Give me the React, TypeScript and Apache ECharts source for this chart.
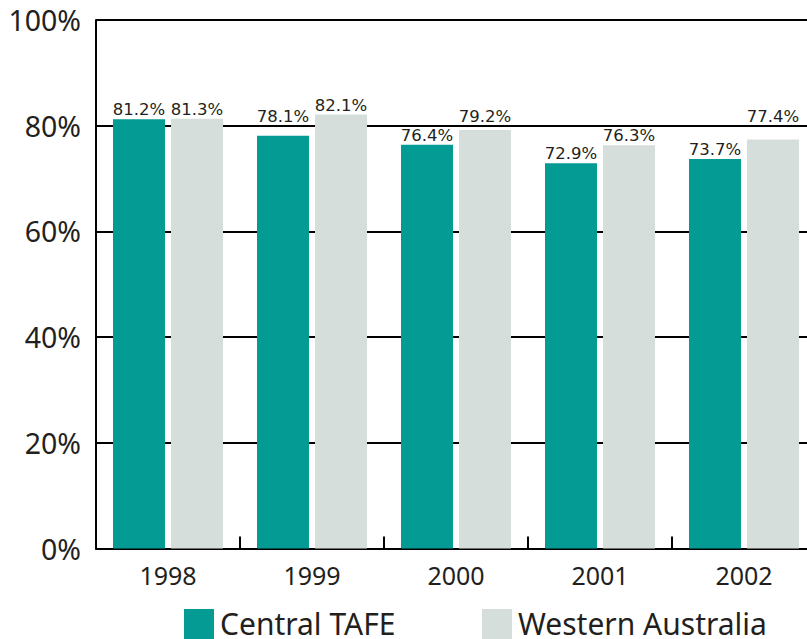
import React, { useEffect, useRef } from "react";
import * as echarts from "echarts";

// Completion rates by year
const years = ["1998", "1999", "2000", "2001", "2002"];
const centralTafe = [81.2, 78.1, 76.4, 72.9, 73.7];
const westernAustralia = [81.3, 82.1, 79.2, 76.3, 77.4];
const seriesNames = ["Central TAFE", "Western Australia"];
const yTicks = [0, 20, 40, 60, 80, 100];

const TEAL = "#039b93";
const GREY = "#d5dedb";
const INK = "#231f20";
const AXIS_FONT = "'Noto Sans', 'Open Sans', sans-serif";

// The chart canvas is a little wider than the visible frame, so the plot
// runs past the right edge.
const VIEW_W = 807;
const VIEW_H = 639;
const CHART_W = 816;

const GRID_LEFT = 96;
const GRID_TOP = 20;
const GRID_HEIGHT = 528.5;
const PX_PER_UNIT = GRID_HEIGHT / 100;
const LABEL_UNITS = 3.4; // label height expressed in axis units
const LABEL_GAP = 1;

// Labels that would straddle the 80% line are lifted to sit above it.
function barData(values: number[]) {
  return values.map((v) => {
    const crossing = v < 80 && v + LABEL_UNITS > 80;
    const distance = crossing ? LABEL_GAP + (80 - v) * PX_PER_UNIT : LABEL_GAP;
    return { value: v, label: { distance } };
  });
}

export default function App() {
  const ref = useRef<HTMLDivElement>(null);

  useEffect(() => {
    if (!ref.current) return;
    const chart = echarts.init(ref.current, null, { renderer: "svg" });

    const labelStyle = {
      show: true,
      position: "top" as const,
      formatter: (p: any) => `${p.value.toFixed(1)}%`,
      fontFamily: "'DejaVu Sans', sans-serif",
      fontSize: 16.5,
      color: INK,
    };

    const legendCommon = {
      top: 603,
      itemWidth: 30,
      itemHeight: 30,
      icon: "rect",
      formatter: (name: string) => `{t|${name}}`,
      textStyle: {
        rich: {
          t: {
            fontFamily: AXIS_FONT,
            fontSize: 30,
            color: INK,
            padding: [0, 0, 2, 1],
          },
        },
      },
    };

    chart.setOption({
      animation: false,
      backgroundColor: "#ffffff",
      grid: {
        left: GRID_LEFT,
        top: GRID_TOP,
        right: 0,
        height: GRID_HEIGHT,
      },
      legend: [
        { ...legendCommon, left: 179, data: [seriesNames[0]] },
        { ...legendCommon, left: 477, data: [seriesNames[1]] },
      ],
      xAxis: {
        type: "category",
        data: years,
        boundaryGap: true,
        axisLine: { show: true, lineStyle: { color: "#000", width: 2 } },
        axisTick: {
          show: true,
          inside: true,
          length: 12,
          lineStyle: { color: "#000", width: 2 },
        },
        axisLabel: {
          fontFamily: AXIS_FONT,
          fontSize: 25,
          color: INK,
          margin: 14,
        },
      },
      yAxis: {
        type: "value",
        min: yTicks[0],
        max: yTicks[yTicks.length - 1],
        interval: yTicks[1] - yTicks[0],
        axisLine: { show: true, lineStyle: { color: "#000", width: 2 } },
        axisTick: { show: false },
        splitLine: { show: true, lineStyle: { color: "#000", width: 2 } },
        axisLabel: {
          formatter: "{value}%",
          fontFamily: AXIS_FONT,
          fontSize: 28.5,
          color: INK,
          margin: 15,
        },
      },
      series: [
        {
          name: seriesNames[0],
          type: "bar",
          data: barData(centralTafe),
          barWidth: 52,
          barGap: "11.5%",
          itemStyle: { color: TEAL },
          label: labelStyle,
        },
        {
          name: seriesNames[1],
          type: "bar",
          data: barData(westernAustralia),
          barWidth: 52,
          barGap: "11.5%",
          itemStyle: { color: GREY },
          label: labelStyle,
        },
      ],
    });

    return () => chart.dispose();
  }, []);

  return (
    <div
      style={{
        position: "fixed",
        left: 0,
        top: 0,
        width: VIEW_W,
        height: VIEW_H,
        overflow: "hidden",
        background: "#fff",
      }}
    >
      <div ref={ref} style={{ width: CHART_W, height: VIEW_H }} />
    </div>
  );
}
